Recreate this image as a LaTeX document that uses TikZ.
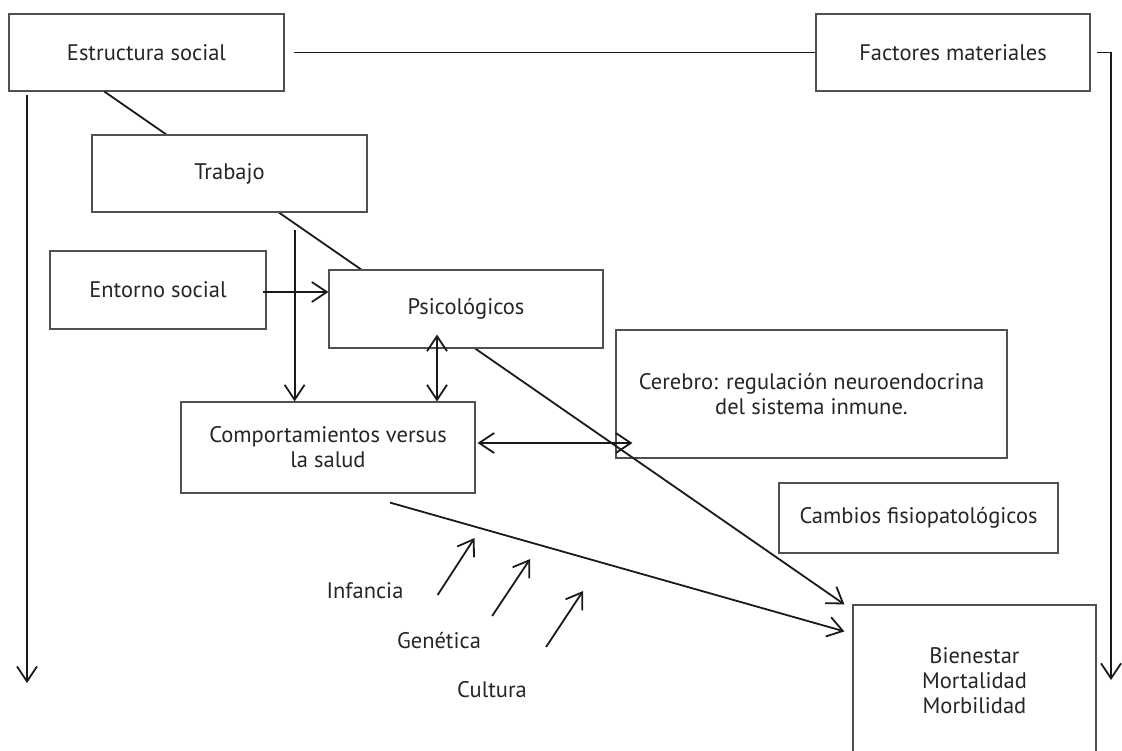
\documentclass[tikz,border=0pt]{standalone}
\usepackage{fontspec}
\setmainfont{PT Sans}
\usetikzlibrary{arrows.meta,calc}
\definecolor{boxline}{HTML}{505050}
\definecolor{ink}{HTML}{1A1A1A}
\definecolor{txt}{HTML}{262626}
\begin{document}
\begin{tikzpicture}[x=1pt,y=-1pt,
  every node/.style={font=\fontsize{22.5}{25}\selectfont, text=txt},
  box/.style={draw=boxline, line width=1.2pt, fill=white, inner sep=0pt, align=center},
  link/.style={draw=ink, line width=1.8pt},
  tip/.style={-{Straight Barb[length=15pt,width=20pt,line width=1.8pt]}},
  tips/.style={{Straight Barb[length=15pt,width=20pt,line width=1.8pt]}-{Straight Barb[length=15pt,width=20pt,line width=1.8pt]}},
  lbl/.style={inner sep=0pt}]
\useasboundingbox (0,0) rectangle (1122,751);

% main boxes
\node[box, minimum width=275, minimum height=77] (estr) at (146.5,52.5) {Estructura social};
\node[box, minimum width=274, minimum height=77] (fact) at (953,52.5) {Factores materiales};
\node[box, minimum width=391, minimum height=128] (cere) at (811.5,394) {Cerebro: regulación neuroendocrina\\del sistema inmune.};
\node[box, minimum width=279, minimum height=70] (camb) at (918.5,518) {Cambios fisiopatológicos};
\node[box, minimum width=243, minimum height=152] (bien) at (974.5,681) {Bienestar\\Mortalidad\\Morbilidad};
\node[box, minimum width=216, minimum height=78] (ent) at (158,290) {Entorno social};
\node[box, minimum width=294, minimum height=91] (comp) at (328,447.5) {Comportamientos versus\\la salud};

% long diagonal path from the social structure down to the outcomes
\draw[link, tip] ($(estr.south west)+(96,0)$) -- ($(bien.north west)+(-8,0)$);

% boxes lying over the diagonal
\node[box, minimum width=275, minimum height=77] (trab) at (229.5,173.5) {Trabajo};
\node[box, minimum width=274, minimum height=78] (psic) at (466,309) {Psicológicos};

% top horizontal link and the two outer downward arrows
\draw[link] ([xshift=9pt]estr.east) -- (fact.west);
\coordinate (rdown) at (1111,680);
\draw[link, tip] ([xshift=6pt]fact.east) -| (rdown);
\coordinate (ldown) at (27,683);
\draw[link, tip] ([yshift=-3pt]estr.south -| ldown) -- (ldown);

% inner arrows
\coordinate (tdrop) at ($(trab.south east)+(-73,17)$);
\draw[link, tip] (tdrop) -- (tdrop |- comp.north);
\draw[link, tip] ([xshift=-4pt]ent.east) ++(0,2) coordinate (ea) -- (ea -| psic.west);
\coordinate (pc) at ($(psic.south)+(-29,-14)$);
\draw[link, tips] (pc) -- (pc |- comp.north);
\coordinate (ha) at ($(comp.east)+(2,-4.5)$);
\coordinate (cw) at ($(cere.west)+(17,0)$);
\draw[link, tips] (ha) -- (ha -| cw);
\draw[link, tip] ($(comp.south)+(62,9)$) -- ($(bien.north west)+(-8,27)$);

% influencing factors
\node[lbl] (inf) at (365,591) {Infancia};
\node[lbl] (gen) at (439,641) {Genética};
\node[lbl] (cul) at (492,690) {Cultura};
\draw[link, tip] ($(inf.east)+(34,4)$) -- ++(37,-57);
\draw[link, tip] ($(gen.east)+(11,-25)$) -- ++(38,-57);
\draw[link, tip] ($(cul.east)+(19,-43)$) -- ++(37,-56);
\end{tikzpicture}
\end{document}
